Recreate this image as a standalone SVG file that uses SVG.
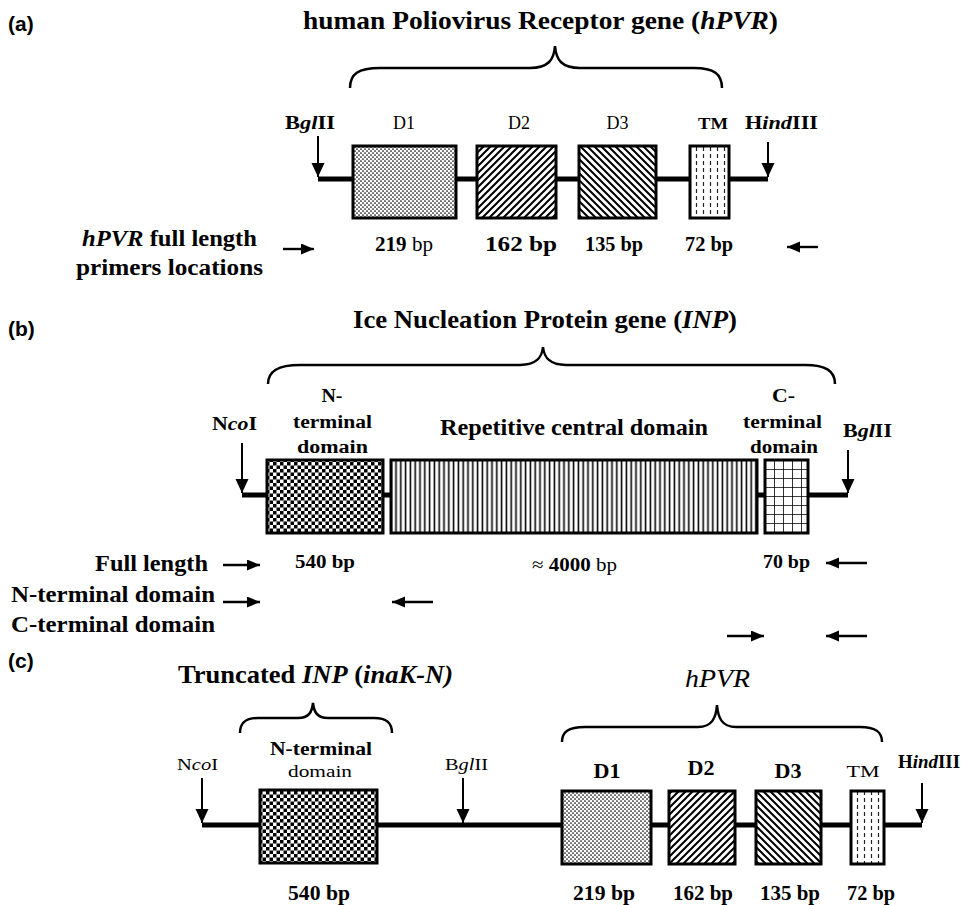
<svg xmlns="http://www.w3.org/2000/svg" width="971" height="905" viewBox="0 0 971 905">
<style>
text{font-family:"Liberation Serif","Times New Roman",serif;font-weight:bold;fill:#000}
.n{font-weight:normal}
.i{font-style:italic}
.lab{font-family:"Liberation Sans",Arial,sans-serif;font-weight:bold;font-size:21px}
.bb{stroke:#000;stroke-width:5;fill:none}
.box{stroke:#000;stroke-width:3}
.ra{stroke:#000;stroke-width:2;fill:none}
.pr{stroke:#000;stroke-width:2.4;fill:none}
.br{stroke:#000;stroke-width:2.5;fill:none}
</style>
<defs>
<marker id="dh" markerUnits="userSpaceOnUse" markerWidth="15" markerHeight="14" refX="14" refY="6.5" orient="auto">
<path d="M0,0 L14,6.5 L0,13 z" fill="#000"/>
</marker>
<marker id="ph" markerUnits="userSpaceOnUse" markerWidth="14" markerHeight="12" refX="13" refY="5.5" orient="auto">
<path d="M0,0 L13,5.5 L0,11 z" fill="#000"/>
</marker>
<pattern id="pDots" patternUnits="userSpaceOnUse" width="4" height="4">
<rect width="4" height="4" fill="#fff"/>
<circle cx="1" cy="1" r="0.85" fill="#000"/>
<circle cx="3" cy="3" r="0.85" fill="#000"/>
</pattern>
<pattern id="pFwd" patternUnits="userSpaceOnUse" width="7" height="7">
<rect width="7" height="7" fill="#fff"/>
<path d="M0,7 L7,0 M-1,1 L1,-1 M6,8 L8,6" stroke="#000" stroke-width="2"/>
</pattern>
<pattern id="pBack" patternUnits="userSpaceOnUse" width="7" height="7">
<rect width="7" height="7" fill="#fff"/>
<path d="M0,0 L7,7 M-1,6 L1,8 M6,-1 L8,1" stroke="#000" stroke-width="2"/>
</pattern>
<pattern id="pDash" patternUnits="userSpaceOnUse" width="7" height="7">
<rect width="7" height="7" fill="#fff"/>
<path d="M3.5,0 L3.5,4" stroke="#222" stroke-width="1.2"/>
</pattern>
<pattern id="pCheck" patternUnits="userSpaceOnUse" width="7" height="7">
<rect width="7" height="7" fill="#fff"/>
<rect width="3.5" height="3.5" fill="#000"/>
<rect x="3.5" y="3.5" width="3.5" height="3.5" fill="#000"/>
</pattern>
<pattern id="pVert" patternUnits="userSpaceOnUse" width="4.8" height="10">
<rect width="4.8" height="10" fill="#fff"/>
<path d="M2.4,0 L2.4,10" stroke="#000" stroke-width="1.6"/>
</pattern>
<pattern id="pGrid" patternUnits="userSpaceOnUse" width="9" height="9" x="765" y="460">
<rect width="9" height="9" fill="#fff"/>
<path d="M0,0 L9,0 M0,0 L0,9" stroke="#000" stroke-width="1.6"/>
</pattern>
</defs>

<g id="connectors">
<line class="bb" x1="318" y1="179" x2="768" y2="179"/>
<line class="bb" x1="242" y1="495" x2="848" y2="495"/>
<line class="bb" x1="202" y1="825" x2="922" y2="825"/>
<line class="ra" x1="318" y1="136" x2="318" y2="177" marker-end="url(#dh)"/>
<line class="ra" x1="768" y1="142" x2="768" y2="177" marker-end="url(#dh)"/>
<line class="ra" x1="242" y1="443" x2="242" y2="493" marker-end="url(#dh)"/>
<line class="ra" x1="848" y1="450" x2="848" y2="493" marker-end="url(#dh)"/>
<line class="ra" x1="202" y1="778" x2="202" y2="823" marker-end="url(#dh)"/>
<line class="ra" x1="463" y1="778" x2="463" y2="823" marker-end="url(#dh)"/>
<line class="ra" x1="922" y1="783" x2="922" y2="823" marker-end="url(#dh)"/>
<line class="pr" x1="283" y1="249" x2="314" y2="249" marker-end="url(#ph)"/>
<line class="pr" x1="818" y1="247" x2="787" y2="247" marker-end="url(#ph)"/>
<line class="pr" x1="223" y1="565" x2="260" y2="565" marker-end="url(#ph)"/>
<line class="pr" x1="867" y1="563" x2="826" y2="563" marker-end="url(#ph)"/>
<line class="pr" x1="223" y1="602" x2="260" y2="602" marker-end="url(#ph)"/>
<line class="pr" x1="433" y1="602" x2="392" y2="602" marker-end="url(#ph)"/>
<line class="pr" x1="727" y1="636" x2="764" y2="636" marker-end="url(#ph)"/>
<line class="pr" x1="867" y1="636" x2="826" y2="636" marker-end="url(#ph)"/>
</g>

<g id="braces">
<path class="br" d="M350,88 C350,74 358,68 380,68 L530,68 C548,68 554,60 555,46 C556,60 562,68 580,68 L694,68 C714,68 722,74 722,88"/>
<path class="br" d="M268,384 C268,371 278,365 300,365 L520,365 C537,365 542,357 543,347 C544,357 549,365 566,365 L805,365 C826,365 835,371 835,384"/>
<path class="br" d="M240,733 C240,723 245,718 258,718 L298,718 C309,718 312,712 313,703 C314,712 317,718 328,718 L374,718 C387,718 392,723 392,733"/>
<path class="br" d="M562,742 C562,732 568,727 585,727 L698,727 C712,727 716,718 717,705 C718,718 722,727 736,727 L860,727 C876,727 882,732 882,742"/>
</g>

<g id="panel-a">
<text class="lab" x="8" y="31">(a)</text>
<g id="a-title"><text x="540.5" y="29" text-anchor="middle" font-size="26" textLength="475" lengthAdjust="spacingAndGlyphs">human Poliovirus Receptor gene (<tspan class="i">hPVR</tspan>)</text></g>
<g id="a-bgl"><text x="310" y="129" text-anchor="middle" font-size="18" textLength="50" lengthAdjust="spacingAndGlyphs">B<tspan class="i">gl</tspan>II</text></g>
<g id="a-hind"><text x="781.5" y="129" text-anchor="middle" font-size="18" textLength="73" lengthAdjust="spacingAndGlyphs">H<tspan class="i">ind</tspan>III</text></g>
<g id="a-D1"><rect class="box" x="353" y="146" width="103" height="72" fill="url(#pDots)"/><text class="n" x="404" y="129" text-anchor="middle" font-size="18" textLength="22" lengthAdjust="spacingAndGlyphs">D1</text><text x="404" y="251" text-anchor="middle" font-size="21" textLength="58" lengthAdjust="spacingAndGlyphs">219 <tspan class="n">bp</tspan></text></g>
<g id="a-D2"><rect class="box" x="477" y="146" width="79" height="72" fill="url(#pFwd)"/><text class="n" x="519" y="129" text-anchor="middle" font-size="18" textLength="22" lengthAdjust="spacingAndGlyphs">D2</text><text x="521" y="251" text-anchor="middle" font-size="21" textLength="72" lengthAdjust="spacingAndGlyphs">162 bp</text></g>
<g id="a-D3"><rect class="box" x="579" y="146" width="77" height="72" fill="url(#pBack)"/><text class="n" x="617.5" y="129" text-anchor="middle" font-size="18" textLength="22" lengthAdjust="spacingAndGlyphs">D3</text><text x="614" y="251" text-anchor="middle" font-size="21" textLength="58" lengthAdjust="spacingAndGlyphs">135 bp</text></g>
<g id="a-TM"><rect class="box" x="690" y="146" width="39" height="72" fill="url(#pDash)"/><text x="713" y="129" text-anchor="middle" font-size="17" textLength="30" lengthAdjust="spacingAndGlyphs">TM</text><text x="709" y="251" text-anchor="middle" font-size="21" textLength="48" lengthAdjust="spacingAndGlyphs">72 bp</text></g>
<g id="a-primers"><text x="82" y="246" font-size="23" textLength="175" lengthAdjust="spacingAndGlyphs"><tspan class="i">hPVR</tspan> full length</text><text x="76" y="275" font-size="23" textLength="187" lengthAdjust="spacingAndGlyphs">primers locations</text></g>
</g>

<g id="panel-b">
<text class="lab" x="8" y="336">(b)</text>
<g id="b-title"><text x="545" y="328" text-anchor="middle" font-size="26" textLength="384" lengthAdjust="spacingAndGlyphs">Ice Nucleation Protein gene (<tspan class="i">INP</tspan>)</text></g>
<g id="b-nco"><text x="234.5" y="430" text-anchor="middle" font-size="18" textLength="45" lengthAdjust="spacingAndGlyphs">N<tspan class="i">co</tspan>I</text></g>
<g id="b-bgl"><text x="867.5" y="437" text-anchor="middle" font-size="18" textLength="49" lengthAdjust="spacingAndGlyphs">B<tspan class="i">gl</tspan>II</text></g>
<g id="b-N"><rect class="box" x="267" y="460" width="116" height="73" fill="url(#pCheck)"/>
<text x="332" y="402" text-anchor="middle" font-size="18" textLength="21" lengthAdjust="spacingAndGlyphs">N-</text>
<text x="332.5" y="428" text-anchor="middle" font-size="18" textLength="79" lengthAdjust="spacingAndGlyphs">terminal</text>
<text x="332.5" y="453" text-anchor="middle" font-size="18" textLength="71" lengthAdjust="spacingAndGlyphs">domain</text>
<text x="325" y="568" text-anchor="middle" font-size="19" textLength="60" lengthAdjust="spacingAndGlyphs">540 bp</text></g>
<g id="b-central"><rect class="box" x="391" y="460" width="366" height="73" fill="url(#pVert)"/>
<text x="574" y="435" text-anchor="middle" font-size="23" textLength="268" lengthAdjust="spacingAndGlyphs">Repetitive central domain</text>
<text x="574.5" y="571" text-anchor="middle" font-size="19" textLength="85" lengthAdjust="spacingAndGlyphs"><tspan class="n">≈ </tspan>4000 <tspan class="n">bp</tspan></text></g>
<g id="b-C"><rect class="box" x="765" y="460" width="43" height="73" fill="url(#pGrid)"/>
<text x="783.5" y="402" text-anchor="middle" font-size="18" textLength="23" lengthAdjust="spacingAndGlyphs">C-</text>
<text x="782.5" y="428" text-anchor="middle" font-size="18" textLength="79" lengthAdjust="spacingAndGlyphs">terminal</text>
<text x="784" y="453" text-anchor="middle" font-size="18" textLength="68" lengthAdjust="spacingAndGlyphs">domain</text>
<text x="786.5" y="568" text-anchor="middle" font-size="19" textLength="47" lengthAdjust="spacingAndGlyphs">70 bp</text></g>
<g id="b-primers">
<text x="95" y="571" font-size="23" textLength="113" lengthAdjust="spacingAndGlyphs">Full length</text>
<text x="11" y="602" font-size="23" textLength="204" lengthAdjust="spacingAndGlyphs">N-terminal domain</text>
<text x="11" y="632" font-size="23" textLength="204" lengthAdjust="spacingAndGlyphs">C-terminal domain</text></g>
</g>

<g id="panel-c">
<text class="lab" x="8" y="668">(c)</text>
<g id="c-title1"><text x="178" y="683" font-size="25" textLength="275" lengthAdjust="spacingAndGlyphs">Truncated <tspan class="i">INP</tspan> (<tspan class="i">inaK-N)</tspan></text></g>
<g id="c-nco"><text class="n" x="197.5" y="770" text-anchor="middle" font-size="17" textLength="41" lengthAdjust="spacingAndGlyphs">N<tspan class="i">co</tspan>I</text></g>
<g id="c-bgl"><text class="n" x="466.5" y="770" text-anchor="middle" font-size="17" textLength="43" lengthAdjust="spacingAndGlyphs">B<tspan class="i">gl</tspan>II</text></g>
<g id="c-N"><rect class="box" x="260" y="790" width="117" height="73" fill="url(#pCheck)"/>
<text x="321" y="755" text-anchor="middle" font-size="19" textLength="102" lengthAdjust="spacingAndGlyphs">N-terminal</text>
<text class="n" x="320" y="777" text-anchor="middle" font-size="17" textLength="64" lengthAdjust="spacingAndGlyphs">domain</text>
<text x="319" y="900" text-anchor="middle" font-size="20" textLength="62" lengthAdjust="spacingAndGlyphs">540 bp</text></g>
<g id="c-title2"><text class="n i" x="717.5" y="687" text-anchor="middle" font-size="25" textLength="65" lengthAdjust="spacingAndGlyphs">hPVR</text></g>
<g id="c-hind"><text x="929" y="768" text-anchor="middle" font-size="18" textLength="62" lengthAdjust="spacingAndGlyphs">H<tspan class="i">ind</tspan>III</text></g>
<g id="c-D1"><rect class="box" x="562" y="791" width="89" height="73" fill="url(#pDots)"/><text x="607" y="778" text-anchor="middle" font-size="20" textLength="27" lengthAdjust="spacingAndGlyphs">D1</text><text x="604" y="900" text-anchor="middle" font-size="20" textLength="62" lengthAdjust="spacingAndGlyphs">219 bp</text></g>
<g id="c-D2"><rect class="box" x="669" y="791" width="66" height="73" fill="url(#pFwd)"/><text x="701" y="775" text-anchor="middle" font-size="20" textLength="27" lengthAdjust="spacingAndGlyphs">D2</text><text x="703" y="900" text-anchor="middle" font-size="20" textLength="60" lengthAdjust="spacingAndGlyphs">162 bp</text></g>
<g id="c-D3"><rect class="box" x="756" y="791" width="65" height="73" fill="url(#pBack)"/><text x="788" y="778" text-anchor="middle" font-size="20" textLength="27" lengthAdjust="spacingAndGlyphs">D3</text><text x="790" y="900" text-anchor="middle" font-size="20" textLength="60" lengthAdjust="spacingAndGlyphs">135 bp</text></g>
<g id="c-TM"><rect class="box" x="851" y="791" width="33" height="73" fill="url(#pDash)"/><text class="n" x="863" y="777" text-anchor="middle" font-size="17" textLength="33" lengthAdjust="spacingAndGlyphs">TM</text><text x="871" y="900" text-anchor="middle" font-size="20" textLength="48" lengthAdjust="spacingAndGlyphs">72 bp</text></g>
</g>
</svg>
